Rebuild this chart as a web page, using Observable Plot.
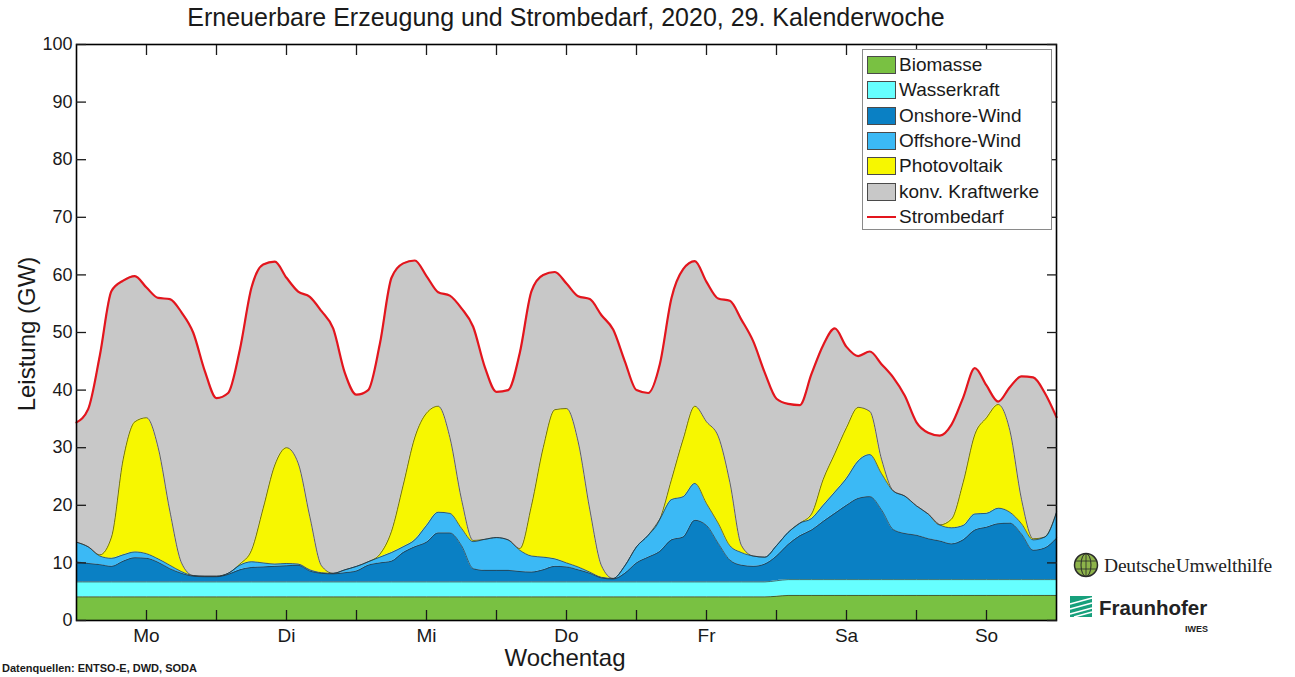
<!DOCTYPE html>
<html><head><meta charset="utf-8">
<script src="https://cdn.jsdelivr.net/npm/d3@7"></script>
<script src="https://cdn.jsdelivr.net/npm/@observablehq/plot@0.6"></script>
<style>
body{margin:0;background:#fff;}
#wrap{position:relative;width:1295px;height:677px;overflow:hidden;font-family:"Liberation Sans",Arial,sans-serif;color:#1a1a1a;background:#fff;}
.abs{position:absolute;white-space:nowrap;}
</style></head><body><div id="wrap"></div>
<script>
const titleText = "Erneuerbare Erzeugung und Strombedarf, 2020, 29. Kalenderwoche";
const yTitle = "Leistung (GW)";
const xTitle = "Wochentag";
const sourceText = "Datenquellen: ENTSO-E, DWD, SODA";
const days = ["Mo","Di","Mi","Do","Fr","Sa","So"];
const xTicks = [12,24,36,48,60,72,84,96,108,120,132,144,156];
const yTicks = [0,10,20,30,40,50,60,70,80,90,100];
const seriesNames = ["Biomasse","Wasserkraft","Onshore-Wind","Offshore-Wind","Photovoltaik","konv. Kraftwerke"];
const seriesColors = ["#79c142","#66ffff","#0a80c4","#3bb9f5","#f7f700","#c8c8c8"];
const demandLabel = "Strombedarf";
const demandColor = "#e3151d";

// hour of week (Monday 00:00 = 0), 2-hourly samples
const hours = [0,2,4,6,8,10,12,14,16,18,20,22,24,26,28,30,32,34,36,38,40,42,44,46,48,50,52,54,56,58,60,62,64,66,68,70,72,74,76,78,80,82,84,86,88,90,92,94,96,98,100,102,104,106,108,110,112,114,116,118,120,122,124,126,128,130,132,134,136,138,140,142,144,146,148,150,152,154,156,158,160,162,164,166,168];

const biomasse = [4.1,4.1,4.1,4.1,4.1,4.1,4.1,4.1,4.1,4.1,4.1,4.1,
 4.1,4.1,4.1,4.1,4.1,4.1,4.1,4.1,4.1,4.1,4.1,4.1,
 4.1,4.1,4.1,4.1,4.1,4.1,4.1,4.1,4.1,4.1,4.1,4.1,
 4.1,4.1,4.1,4.1,4.1,4.1,4.1,4.1,4.1,4.1,4.1,4.1,
 4.1,4.1,4.1,4.1,4.1,4.1,4.1,4.1,4.1,4.1,4.1,4.1,
 4.2,4.35,4.35,4.35,4.35,4.35,4.35,4.35,4.35,4.35,4.35,4.35,
 4.35,4.35,4.35,4.35,4.35,4.35,4.35,4.35,4.35,4.35,4.35,4.35,
 4.35];
const wasserkraft = [2.6,2.6,2.6,2.6,2.6,2.6,2.6,2.6,2.6,2.6,2.6,2.6,
 2.6,2.6,2.6,2.6,2.6,2.6,2.6,2.6,2.6,2.6,2.6,2.6,
 2.6,2.6,2.6,2.6,2.6,2.6,2.6,2.6,2.6,2.6,2.6,2.6,
 2.6,2.6,2.6,2.6,2.6,2.6,2.6,2.6,2.6,2.6,2.6,2.6,
 2.6,2.6,2.6,2.6,2.6,2.6,2.6,2.6,2.6,2.6,2.6,2.6,
 2.7,2.75,2.75,2.75,2.75,2.75,2.75,2.75,2.75,2.75,2.75,2.75,
 2.75,2.75,2.75,2.75,2.75,2.75,2.75,2.75,2.75,2.75,2.75,2.75,
 2.75];
const onshore = [3.5,3.2,3.0,2.7,3.6,4.2,4.1,3.4,2.3,1.5,1.0,0.9,
 0.9,1.3,2.1,2.5,2.6,2.7,2.8,2.9,1.9,1.5,1.4,1.6,
 1.9,2.9,3.3,3.6,5.1,6.1,6.9,8.5,8.5,6.3,2.3,2.0,
 2.0,2.0,1.8,1.7,2.1,2.7,2.6,2.1,1.5,0.7,0.5,1.5,
 3.3,4.3,5.3,7.3,7.8,10.7,9.8,6.7,3.8,2.9,2.7,3.1,
 4.3,6.1,7.6,8.6,10.1,11.5,12.9,14.1,14.4,12.1,8.7,8.0,
 7.7,7.1,6.7,6.2,6.9,8.6,9.1,9.7,9.8,7.9,5.1,5.5,
 7.2];
const offshore = [3.4,2.9,1.5,1.4,1.1,1.0,0.8,0.6,0.6,0.3,0.1,0.1,
 0.1,0.2,0.8,1.0,0.7,0.4,0.4,0.2,0.2,0.1,0.1,0.5,
 0.8,0.6,1.0,1.5,1.0,1.2,2.9,3.6,3.4,3.0,4.7,5.4,
 5.7,5.3,3.7,2.8,2.2,1.3,0.7,0.5,0.2,0.1,0.1,1.3,
 2.8,3.8,5.6,7.0,7.0,6.4,3.8,3.5,2.5,2.2,1.8,1.2,
 1.8,2.1,2.2,2.0,2.8,3.7,4.7,6.5,7.3,6.3,6.7,6.5,
 5.1,4.3,2.8,2.8,2.5,2.8,2.4,2.7,1.9,1.8,1.8,1.9,
 4.5];
const photovoltaik = [0,0,0.2,3.7,16.6,22.6,23.6,19.3,9.4,1.5,0,0,
 0,0,0.2,2.0,9.5,17.2,20.1,17.5,9.2,1.2,0,0,
 0,0,0.5,3.7,10.7,17.8,19.5,18.4,13.2,5.0,0.2,0,
 0,0,0.3,8.8,19.0,25.9,26.8,21.7,10.8,2.0,0,0,
 0,0,0,3.5,10.0,13.4,14.2,15.1,11.0,1.2,0,0,
 0,0,0,0.8,4.5,6.7,8.8,9.3,7.5,2.5,0,0,
 0,0,0,1.5,7.5,13.8,16.6,18.0,14.2,4.2,0.2,0,
 0];
const konv = [20.8,23.9,34.6,42.7,31.0,25.3,22.6,26.0,36.8,43.5,42.2,35.6,
 30.9,31.3,37.2,45.6,42.3,35.3,29.5,29.8,38.2,44.2,42.5,34.2,
 29.8,29.8,36.5,44.0,38.5,30.7,23.8,19.8,24.6,33.2,37.1,29.9,
 25.3,26.0,34.0,37.2,30.0,23.9,21.7,25.3,36.6,43.5,43.2,35.5,
 27.2,24.7,26.9,31.5,29.5,25.2,24.3,23.9,31.5,39.2,37.3,32.0,
 25.5,22.3,20.5,24.3,23.3,21.7,14.0,8.9,10.4,16.5,19.7,17.4,
 14.5,14.1,15.5,16.4,14.7,11.5,5.6,0.5,7.5,21.4,28.0,25.0,
 16.5];
const strombedarf = [34.4,36.7,46.0,57.2,59.0,59.8,57.8,56.0,55.8,53.5,50.0,43.3,
 38.6,39.5,47.0,57.8,61.8,62.3,59.5,57.1,56.2,53.7,50.7,43.0,
 39.2,40.0,48.0,59.5,62.0,62.5,59.8,57.0,56.4,54.2,51.0,44.0,
 39.7,40.0,46.5,57.2,60.0,60.5,58.5,56.3,55.8,53.0,50.5,45.0,
 40.0,39.5,44.5,56.0,61.0,62.4,58.8,55.9,55.5,52.2,48.5,43.0,
 38.5,37.6,37.4,42.8,47.8,50.7,47.5,45.9,46.7,44.5,42.2,39.0,
 34.4,32.6,32.1,34.0,38.7,43.8,40.8,38.0,40.5,42.4,42.2,39.5,
 35.3];

const seriesValues = [biomasse, wasserkraft, onshore, offshore, photovoltaik, konv];
const table = [];
seriesNames.forEach((name, i) => hours.forEach((h, k) => table.push({h, key: name, value: seriesValues[i][k]})));
const demandRows = hours.map((h, k) => ({h, value: strombedarf[k]}));

const font = "Liberation Sans, Arial, sans-serif";
const curve = "monotone-x";
const chart = Plot.plot({
  width: 1295, height: 677,
  marginLeft: 76, marginRight: 239, marginTop: 44, marginBottom: 57,
  x: {domain: [0, 168]},
  y: {domain: [0, 100]},
  color: {domain: seriesNames, range: seriesColors},
  style: {fontFamily: font, color: "#1a1a1a", background: "transparent", overflow: "visible"},
  marks: [
    Plot.areaY(table, {x: "h", y: "value", z: "key", fill: "key", order: seriesNames, curve}),
    Plot.lineY(table.filter(d => d.key !== "konv. Kraftwerke"),
      Plot.stackY2({x: "h", y: "value", z: "key", order: seriesNames, curve, stroke: "#2b2b2b", strokeWidth: 0.8, strokeOpacity: 0.85})),
    Plot.lineY(demandRows, {x: "h", y: "value", stroke: demandColor, strokeWidth: 2.2, curve}),
    Plot.frame({stroke: "#000", strokeWidth: 1.6}),
    Plot.axisY({ticks: yTicks, tickSize: -10, tickPadding: 14, fontSize: 18, label: null, strokeWidth: 1.3}),
    Plot.axisY({anchor: "right", ticks: yTicks, tickSize: -10, tickFormat: () => "", label: null, strokeWidth: 1.3}),
    Plot.axisX({ticks: xTicks, tickSize: -10, tickPadding: 18, fontSize: 19, label: null, strokeWidth: 1.3,
      tickFormat: d => ((d - 12) % 24 === 0 ? days[(d - 12) / 24] : "")}),
    Plot.axisX({anchor: "top", ticks: xTicks, tickSize: -10, tickFormat: () => "", label: null, strokeWidth: 1.3})
  ]
});
chart.style.position = "absolute";
chart.style.left = "0px";
chart.style.top = "0px";
const wrap = document.getElementById("wrap");
wrap.appendChild(chart);

function addDiv(text, css) {
  const d = document.createElement("div");
  d.className = "abs";
  d.textContent = text;
  Object.assign(d.style, css);
  wrap.appendChild(d);
  return d;
}
// title
addDiv(titleText, {left: "0px", width: "1132px", top: "3px", textAlign: "center", fontSize: "25px", lineHeight: "28px"});
// axis titles
addDiv(xTitle, {left: "365px", width: "400px", top: "644px", textAlign: "center", fontSize: "24px", lineHeight: "28px"});
addDiv(yTitle, {left: (27 - 150) + "px", top: (334 - 15) + "px", width: "300px", height: "30px", lineHeight: "30px", textAlign: "center", fontSize: "24px", transform: "rotate(-90deg)"});
// source
addDiv(sourceText, {left: "2px", top: "662px", fontSize: "11px", fontWeight: "bold", lineHeight: "13px"});

// legend
const lg = document.createElement("div");
lg.className = "abs";
Object.assign(lg.style, {left: "862px", top: "49px", width: "190px", height: "181px", border: "1px solid #8a8a8a", background: "#fff", boxSizing: "border-box"});
wrap.appendChild(lg);
const legendItems = seriesNames.map((n, i) => ({name: n, color: seriesColors[i], type: "box"})).concat([{name: demandLabel, color: demandColor, type: "line"}]);
legendItems.forEach((it, i) => {
  const cy = 65 + i * 25.3;
  if (it.type === "box") {
    const sw = document.createElement("div");
    sw.className = "abs";
    Object.assign(sw.style, {left: "867px", top: (cy - 9) + "px", width: "29px", height: "18px", background: it.color, border: "1px solid #4a4a4a", boxSizing: "border-box"});
    wrap.appendChild(sw);
  } else {
    const ln = document.createElement("div");
    ln.className = "abs";
    Object.assign(ln.style, {left: "867px", top: (cy - 1) + "px", width: "29px", height: "2px", background: it.color});
    wrap.appendChild(ln);
  }
  addDiv(it.name, {left: "899px", top: (cy - 12) + "px", fontSize: "19px", lineHeight: "24px"});
});

// logos
const logoSvg = document.createElementNS("http://www.w3.org/2000/svg", "svg");
logoSvg.setAttribute("width", "1295"); logoSvg.setAttribute("height", "677");
logoSvg.style.position = "absolute"; logoSvg.style.left = "0px"; logoSvg.style.top = "0px";
logoSvg.innerHTML = `
  <circle cx="1086" cy="565" r="11.5" fill="#8db34a" stroke="#2a2a2a" stroke-width="1.5"/>
  <ellipse cx="1086" cy="565" rx="5" ry="11.5" fill="none" stroke="#2a2a2a" stroke-width="1"/>
  <line x1="1075" y1="561" x2="1097" y2="561" stroke="#2a2a2a" stroke-width="0.8"/>
  <line x1="1075" y1="569" x2="1097" y2="569" stroke="#2a2a2a" stroke-width="0.8"/>
  <line x1="1086" y1="553.5" x2="1086" y2="576.5" stroke="#2a2a2a" stroke-width="0.8"/>
  <rect x="1070" y="596" width="22" height="21" fill="#17a07c"/>
  <path d="M1070,604 L1092,598 M1070,609 L1092,603 M1070,614 L1092,608 M1074,617 L1092,612" stroke="#fff" stroke-width="1.6"/>
`;
wrap.appendChild(logoSvg);
addDiv("Deutsche Umwelthilfe", {left: "1104px", top: "554px", fontSize: "19.5px", lineHeight: "24px", fontFamily: "Liberation Serif, DejaVu Serif, serif", wordSpacing: "-4px", letterSpacing: "-0.2px", color: "#222"});
addDiv("Fraunhofer", {left: "1099px", top: "596px", fontSize: "20.5px", lineHeight: "24px", fontWeight: "bold", color: "#222"});
addDiv("IWES", {left: "1185px", top: "624px", fontSize: "9px", lineHeight: "10px", fontWeight: "bold", color: "#222"});
</script>
</body></html>
